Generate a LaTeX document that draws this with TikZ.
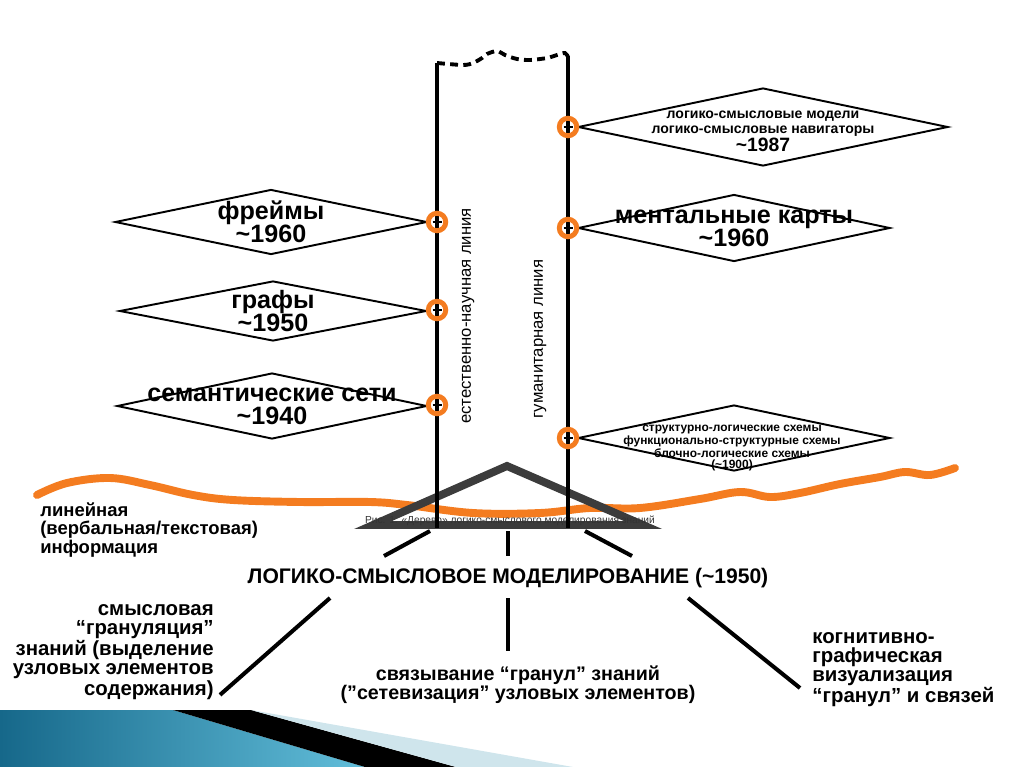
\documentclass[tikz,border=0pt]{standalone}
\usepackage{fontspec}
\setmainfont{Liberation Sans}
\usetikzlibrary{shapes.geometric}
\usetikzlibrary{arrows.meta, positioning}
\definecolor{wave}{HTML}{F47C20}
\definecolor{roofgray}{HTML}{3C3C3C}
\definecolor{banddark}{HTML}{16688A}
\definecolor{bandlight}{HTML}{62BEDA}
\definecolor{bandpale}{HTML}{CFE5EC}

\begin{document}
\begin{tikzpicture}[x=0.02cm, y=-0.02cm,
    every node/.style={inner sep=0pt},
    dia/.style={draw, shape=diamond, line width=1.1pt, fill=white},
    dtext/.style={font=\bfseries\fontsize{14.3}{13}\selectfont, align=center},
    hub/.style={circle, draw=wave, line width=2.8pt, fill=white, minimum size=0.35cm,
        path picture={
            \draw[black, line width=1.2pt] ([xshift=-0.09cm]path picture bounding box.center) -- ([xshift=0.09cm]path picture bounding box.center);
            \draw[black, line width=2.6pt] ([yshift=-0.2cm]path picture bounding box.center) -- ([yshift=0.2cm]path picture bounding box.center);}},
    trunk/.style={line width=2.8pt},
    spoke/.style={line width=2.3pt},
    note/.style={font=\bfseries\fontsize{11.6}{10.8}\selectfont},
    vlabel/.style={rotate=90, font=\fontsize{9.5}{10}\selectfont}
    ]
    \useasboundingbox (0,0) rectangle (1024,767);

    % bottom band
    \shade[left color=banddark, right color=bandlight] (0,710) -- (173,710) -- (365,767) -- (0,767) -- cycle;
    \fill[black] (173,710) -- (251,710) -- (456,767) -- (365,767) -- cycle;
    \fill[bandpale] (251,710) -- (573,767) -- (456,767) -- cycle;

    % orange line
    \draw[wave, line width=4.5pt, line cap=round] plot[smooth, tension=0.6] coordinates {
        (37,495) (67,483) (110,478) (150,485) (193,495) (233,500) (300,502) (370,502)
        (407,505) (473,513) (540,513) (590,508) (640,508) (700,499) (740,492) (770,497)
        (800,493) (840,484) (880,477) (905,472) (930,475) (955,468)};

    % roof
    \coordinate (apex) at (507,466);
    \coordinate (basel) at (373,525);
    \coordinate (baser) at (643,525);
    \draw[roofgray, line width=4.5pt, line join=miter] (basel) -- (apex) -- (baser) -- cycle;
    \node[font=\fontsize{5.8}{6}\selectfont, text=black!80] (fig) at (510,521)
        {Рис. 1. «Дерево» логико-смыслового моделирования знаний};

    % trunks
    \coordinate (ltop) at (437,63);
    \coordinate (lbot) at (437,528);
    \coordinate (rtop) at (568,56);
    \coordinate (rbot) at (568,528);
    \draw[trunk] (ltop) -- (lbot);
    \draw[trunk] (rtop) -- (rbot);
    \draw[line width=2.2pt, dash pattern=on 4.5pt off 3pt] plot[smooth, tension=0.5] coordinates {
        (437,63) (463,65) (473,63) (482,58) (487,54) (497,51) (505,55) (517,59) (530,60)
        (547,58) (557,55) (565,53) (568,57)};

    % diamonds
    \node[dia, minimum width=6.24cm, minimum height=1.30cm] (frames) at (271,222) {};
    \node[dia, minimum width=6.14cm, minimum height=1.20cm] (graphs) at (273,311) {};
    \node[dia, minimum width=6.20cm, minimum height=1.32cm] (semnet) at (272,406) {};
    \node[dia, minimum width=7.40cm, minimum height=1.56cm] (lsm) at (763,127) {};
    \node[dia, minimum width=6.24cm, minimum height=1.34cm] (mental) at (734,228) {};
    \node[dia, minimum width=6.24cm, minimum height=1.32cm] (struct) at (734,438) {};

    \node[dtext] (framest) at (frames) {фреймы\\\textasciitilde1960};
    \node[dtext] (graphst) at (graphs) {графы\\\textasciitilde1950};
    \node[dtext] (semnett) at (semnet) {семантические сети\\\textasciitilde1940};
    \node[dtext] (mentalt) at (mental) {ментальные карты\\\textasciitilde1960};
    \node[font=\bfseries\fontsize{8}{8.5}\selectfont, align=center] (lsmt) at (763,131)
        {логико-смысловые модели\\логико-смысловые навигаторы\\{\fontsize{11}{10}\selectfont\textasciitilde1987}};
    \node[font=\bfseries\fontsize{6.8}{5.8}\selectfont, align=center] (structt) at (732,448)
        {структурно-логические схемы\\функционально-структурные схемы\\блочно-логические схемы\\(\textasciitilde1900)};

    % markers
    \node[hub] (h1) at (437,222) {};
    \node[hub] (h2) at (437,310) {};
    \node[hub] (h3) at (437,405) {};
    \node[hub] (h4) at (568,127) {};
    \node[hub] (h5) at (568,228) {};
    \node[hub] (h6) at (568,438) {};

    \node[vlabel] (natline) at (468,316) {естественно-научная линия};
    \node[vlabel] (humline) at (540,339) {гуманитарная линия};

    % texts
    \node[font=\bfseries\fontsize{10.5}{10.4}\selectfont, align=left, anchor=west] (linear) at (40,530)
        {линейная\\(вербальная/текстовая)\\информация};
    \node[font=\bfseries\fontsize{12}{12}\selectfont] (title) at (508,578)
        {ЛОГИКО-СМЫСЛОВОЕ МОДЕЛИРОВАНИЕ (\textasciitilde1950)};
    \node[note, align=right, anchor=east] (granul) at (214,652)
        {смысловая\\“грануляция”\\знаний (выделение\\узловых элементов\\содержания)};
    \node[note, font=\bfseries\fontsize{11.2}{10.8}\selectfont, align=center] (links) at (518,685)
        {связывание “гранул” знаний\\(”сетевизация” узловых элементов)};
    \node[note, align=left, anchor=west] (visual) at (812,670)
        {когнитивно-\\графическая\\визуализация\\“гранул” и связей};

    % connectors
    \coordinate (ul) at (384,556);
    \coordinate (um) at (508,556);
    \coordinate (ur) at (632,556);
    \coordinate (bl0) at (430,531);
    \coordinate (bm0) at (508,531);
    \coordinate (br0) at (585,531);
    \draw[spoke] (bl0) -- (ul);
    \draw[spoke] (bm0) -- (um);
    \draw[spoke] (br0) -- (ur);
    \coordinate (dl) at (330,598);
    \coordinate (dm) at (508,598);
    \coordinate (dr) at (688,598);
    \draw[spoke] (dl) -- ([xshift=0.12cm, yshift=0.1cm]granul.south east);
    \draw[spoke] (dm) -- (508,651);
    \draw[spoke] (dr) -- (800,688);
\end{tikzpicture}
\end{document}
